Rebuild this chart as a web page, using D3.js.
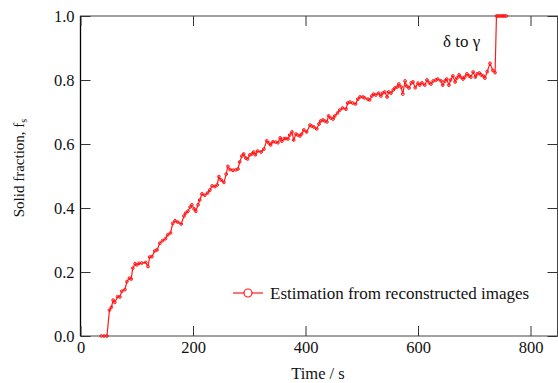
<!DOCTYPE html>
<html>
<head>
<meta charset="utf-8">
<script src="https://cdn.jsdelivr.net/npm/d3@7"></script>
<style>
  body { margin: 0; background: #fff; }
  svg { display: block; font-family: "Liberation Serif", "Times New Roman", serif; }
</style>
</head>
<body>
<svg width="558" height="383"></svg>
<script>
// values (time in s, solid fraction)
var times = [37, 42, 47, 51.5, 55, 58, 61, 66, 70, 73.5, 79, 82.5, 87, 90, 93, 97, 100, 104, 109, 116, 120, 123, 127, 132, 136, 141, 146, 151, 155, 160, 164, 168, 173, 179, 184, 187, 191, 195, 198, 202, 205, 209, 212, 216, 221, 226, 230, 234, 239, 243, 246, 250, 255, 259, 262, 266, 271, 276, 280, 283, 287, 290, 294, 297, 301, 305, 308, 311, 315, 321, 326, 331, 335, 338, 342, 347, 351, 355, 358, 362, 365, 369, 372, 376, 379, 383, 386, 390, 393, 397, 402, 408, 411, 415, 420, 424, 427, 431, 434, 438, 441, 445, 449, 452, 457, 461, 466, 472, 475, 479, 484, 489, 493, 497, 502, 505, 511, 514, 518, 521, 525, 530, 534, 537, 541, 545, 548, 552, 556, 559, 563, 566, 570, 573, 577, 580, 584, 588, 591, 595, 600, 603, 607, 612, 616, 620, 623, 627, 632, 635, 641, 644, 648, 651, 655, 658, 662, 666, 669, 673, 676, 680, 683, 687, 691, 694, 698, 702, 705, 709, 712, 716, 719, 723, 728, 733, 737, 739.5, 742, 745, 748, 751, 754, 757];
var fractions = [0, 0, 0, 0.081, 0.09, 0.112, 0.105, 0.123, 0.122, 0.14, 0.145, 0.17, 0.181, 0.178, 0.212, 0.226, 0.222, 0.227, 0.228, 0.23, 0.217, 0.247, 0.248, 0.266, 0.269, 0.29, 0.298, 0.304, 0.316, 0.322, 0.352, 0.36, 0.356, 0.35, 0.375, 0.384, 0.39, 0.403, 0.41, 0.397, 0.39, 0.41, 0.425, 0.444, 0.44, 0.447, 0.456, 0.469, 0.467, 0.472, 0.498, 0.4875, 0.48, 0.506, 0.53, 0.52, 0.518, 0.519, 0.522, 0.544, 0.5625, 0.569, 0.556, 0.553, 0.566, 0.569, 0.575, 0.566, 0.578, 0.575, 0.584, 0.61, 0.603, 0.597, 0.607, 0.606, 0.604, 0.619, 0.609, 0.617, 0.617, 0.616, 0.628, 0.6375, 0.6125, 0.631, 0.628, 0.625, 0.631, 0.644, 0.6375, 0.659, 0.656, 0.653, 0.647, 0.6625, 0.672, 0.675, 0.672, 0.669, 0.688, 0.681, 0.678, 0.6875, 0.697, 0.706, 0.7125, 0.709, 0.728, 0.731, 0.728, 0.725, 0.74, 0.747, 0.747, 0.744, 0.74, 0.7375, 0.75, 0.756, 0.753, 0.759, 0.75, 0.759, 0.7625, 0.747, 0.7625, 0.759, 0.769, 0.775, 0.778, 0.7875, 0.778, 0.756, 0.797, 0.781, 0.775, 0.791, 0.794, 0.776, 0.79, 0.784, 0.791, 0.784, 0.8, 0.791, 0.7875, 0.797, 0.8, 0.803, 0.797, 0.784, 0.797, 0.803, 0.784, 0.8, 0.8125, 0.794, 0.806, 0.816, 0.809, 0.803, 0.809, 0.819, 0.8125, 0.809, 0.825, 0.809, 0.819, 0.822, 0.816, 0.8125, 0.806, 0.826, 0.852, 0.83, 0.823, 1.0, 1.0, 1.0, 1.0, 1.0, 1.0, 1.0];

var xTicks = [0, 200, 400, 600, 800];
var yTicks = [0, 0.2, 0.4, 0.6, 0.8, 1.0];

var plotLeft = 80.5, plotRight = 557.5, plotTop = 16, plotBottom = 336;

var svg = d3.select("svg");

var x = d3.scaleLinear().domain([0, 848]).range([plotLeft, plotRight]);
var y = d3.scaleLinear().domain([0, 1]).range([plotBottom, plotTop]);

var data = times.map(function(t, i) { return { t: t, f: fractions[i] }; });

// frame
svg.append("rect")
    .attr("x", plotLeft).attr("y", plotTop)
    .attr("width", plotRight - plotLeft).attr("height", plotBottom - plotTop)
    .attr("fill", "none").attr("stroke", "#444").attr("stroke-width", 1);
svg.append("line")
    .attr("x1", plotLeft).attr("x2", plotLeft).attr("y1", plotTop).attr("y2", plotBottom)
    .attr("stroke", "#000").attr("stroke-width", 1.3);

function styleAxis(g) {
    g.select(".domain").remove();
    g.selectAll(".tick line").attr("stroke", "#333");
    g.selectAll(".tick text")
        .attr("font-family", "Liberation Serif, Times New Roman, serif")
        .attr("font-size", 16.5).attr("fill", "#111");
}

svg.append("g").attr("transform", "translate(0," + plotBottom + ")")
    .call(d3.axisBottom(x).tickValues(xTicks).tickFormat(d3.format("d")).tickSizeInner(-10).tickSizeOuter(0).tickPadding(5))
    .call(styleAxis);
svg.append("g").attr("transform", "translate(0," + plotTop + ")")
    .call(d3.axisTop(x).tickValues(xTicks).tickFormat("").tickSizeInner(-10).tickSizeOuter(0))
    .call(styleAxis);
svg.append("g").attr("transform", "translate(" + plotLeft + ",0)")
    .call(d3.axisLeft(y).tickValues(yTicks).tickFormat(d3.format(".1f")).tickSizeInner(-10).tickSizeOuter(0).tickPadding(6))
    .call(styleAxis);
svg.append("g").attr("transform", "translate(" + plotRight + ",0)")
    .call(d3.axisRight(y).tickValues(yTicks).tickFormat("").tickSizeInner(-10).tickSizeOuter(0))
    .call(styleAxis);

// series
var line = d3.line().x(function(d) { return x(d.t); }).y(function(d) { return y(d.f); });
svg.append("path").datum(data)
    .attr("d", line)
    .attr("fill", "none").attr("stroke", "#ff1a1a").attr("stroke-width", 1.2);
svg.append("g").selectAll("circle").data(data).enter().append("circle")
    .attr("cx", function(d) { return x(d.t); })
    .attr("cy", function(d) { return y(d.f); })
    .attr("r", 1.4)
    .attr("fill", "none").attr("stroke", "#ff1a1a").attr("stroke-width", 1);

// annotation
svg.append("text").attr("x", 443).attr("y", 47)
    .attr("font-size", 17).attr("fill", "#111")
    .text("\u03b4 to \u03b3");

// legend
svg.append("line").attr("x1", 233).attr("x2", 263).attr("y1", 293).attr("y2", 293)
    .attr("stroke", "#ff1a1a").attr("stroke-width", 1.2);
svg.append("circle").attr("cx", 248).attr("cy", 293).attr("r", 4)
    .attr("fill", "#fff").attr("stroke", "#ff1a1a").attr("stroke-width", 1.2);
svg.append("text").attr("x", 270).attr("y", 299)
    .attr("font-size", 17).attr("fill", "#111")
    .text("Estimation from reconstructed images");

// axis titles
svg.append("text").attr("x", 318).attr("y", 379)
    .attr("text-anchor", "middle").attr("font-size", 16.5).attr("fill", "#111")
    .text("Time / s");

var yl = svg.append("text")
    .attr("transform", "translate(24,168) rotate(-90)")
    .attr("text-anchor", "middle").attr("font-size", 15).attr("fill", "#111");
yl.append("tspan").text("Solid fraction, f");
yl.append("tspan").attr("font-size", 10).attr("dy", 3).text("s");
</script>
</body>
</html>
